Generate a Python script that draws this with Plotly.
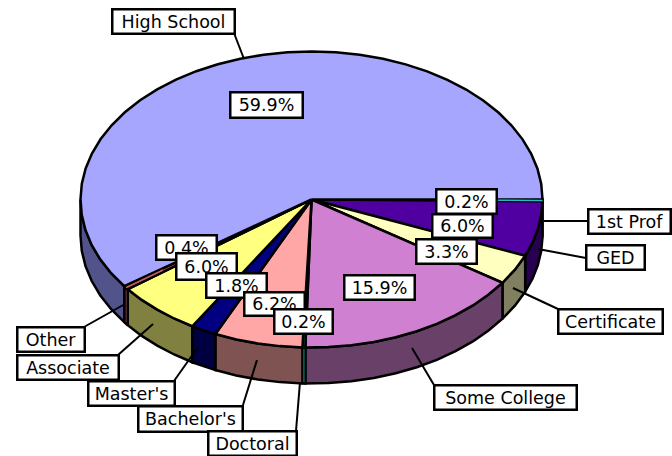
import numpy as np
import plotly.graph_objects as go

categories = ["1st Prof", "GED", "Certificate", "Some College", "Doctoral",
              "Bachelor's", "Master's", "Associate", "Other", "High School"]
values = [0.2, 6.0, 3.3, 15.9, 0.2, 6.2, 1.8, 6.0, 0.4, 59.9]

top_colors = ["#20C0C0", "#5000A0", "#FFFFC0", "#D080D0", "#008080",
              "#FFA6A6", "#000080", "#FFFF80", "#C06060", "#A6A6FF"]
side_colors = ["#106060", "#280050", "#808060", "#684068", "#006868",
               "#805353", "#000040", "#808040", "#A05050", "#53538C"]

CX, CY, RX, RY, DEPTH = 311.5, 199.5, 231, 148, 36
STEP = 6.0
LINE_W = 2.5
FONT = dict(family="DejaVu Sans", size=17.5, color="black")

# name -> box (x0, y0, x1, y1)
name_boxes = {
    "High School": (112, 9, 234, 33), "1st Prof": (588, 209, 670, 233),
    "GED": (586, 245, 644, 269), "Certificate": (558, 309, 662, 333),
    "Some College": (434, 385, 576, 409), "Doctoral": (208, 431, 296, 455),
    "Bachelor's": (138, 406, 242, 431), "Master's": (88, 381, 174, 405),
    "Associate": (17, 355, 118, 379), "Other": (17, 327, 84, 351),
}
pct_boxes = {
    "High School": (230, 92, 302, 117), "1st Prof": (436, 189, 496, 213),
    "GED": (432, 214, 492, 237), "Certificate": (416, 239, 476, 263),
    "Some College": (344, 275, 414, 299), "Other": (156, 235, 216, 259),
    "Associate": (176, 253, 236, 279), "Master's": (206, 273, 266, 297),
    "Bachelor's": (244, 292, 304, 315), "Doctoral": (274, 309, 332, 333),
}
leaders = {
    "High School": ((234, 33), (244, 59)), "1st Prof": ((588, 221), (544, 221)),
    "GED": ((586, 258), (538, 249)), "Certificate": ((558, 309), (513, 288)),
    "Some College": ((434, 385), (412, 348)), "Doctoral": ((296, 431), (300, 382)),
    "Bachelor's": ((243, 405), (257, 360)), "Master's": ((174, 381), (198, 347)),
    "Associate": ((118, 355), (153, 324)), "Other": ((84, 327), (125, 304)),
}


def arc(a, b):
    n = max(1, int(np.ceil(abs(b - a) / STEP)))
    t = np.radians(np.linspace(a, b, n + 1))
    return CX + RX * np.cos(t), CY + RY * np.sin(t)


def poly(x, y, color):
    return go.Scatter(x=list(x), y=list(y), mode="lines", fill="toself", fillcolor=color,
                      line=dict(color="black", width=LINE_W), hoverinfo="skip", showlegend=False)


def stroke(x, y, color, w):
    return go.Scatter(x=list(x), y=list(y), mode="lines", line=dict(color=color, width=w),
                      hoverinfo="skip", showlegend=False)


total = sum(values)
ends = np.cumsum(values) / total * 360
starts = np.concatenate([[0], ends[:-1]])
fig = go.Figure()

# visible rim (front half of the disc)
for a, b, c in zip(starts, ends, side_colors):
    lo, hi = a, min(b, 180)
    if lo < hi:
        x, y = arc(lo, hi)
        fig.add_trace(poly(np.r_[x, x[::-1], x[0]], np.r_[y, y[::-1] + DEPTH, y[0]], c))

# top faces
for a, b, c in zip(starts, ends, top_colors):
    x, y = arc(a, b)
    fig.add_trace(poly(np.r_[CX, x, CX], np.r_[CY, y, CY], c))

# thin slices: keep their colour visible inside the black outline
for name, frac in (("1st Prof", 0.55), ("Other", 0.8)):
    i = categories.index(name)
    t = np.radians((starts[i] + ends[i]) / 2)
    fig.add_trace(stroke([CX + frac * RX * np.cos(t), CX + RX * np.cos(t)],
                         [CY + frac * RY * np.sin(t), CY + RY * np.sin(t)], top_colors[i], 1.5))
i = categories.index("Doctoral")
t = np.radians((starts[i] + ends[i]) / 2)
xm, ym = CX + RX * np.cos(t), CY + RY * np.sin(t)
fig.add_trace(stroke([xm, xm], [ym + 1.5, ym + DEPTH - 1.5], side_colors[i], 1.5))

# leader lines
for name, (p, q) in leaders.items():
    fig.add_trace(stroke([p[0], q[0]], [p[1], q[1]], "black", LINE_W - 0.5))


def label(box, text):
    x0, y0, x1, y1 = box
    fig.add_annotation(x=(x0 + x1) / 2, y=(y0 + y1) / 2, text=text, showarrow=False,
                       width=x1 - x0 - 2, height=y1 - y0 - 2, borderpad=0, borderwidth=LINE_W,
                       bordercolor="black", bgcolor="white", font=FONT,
                       xanchor="center", yanchor="middle", align="center", valign="middle")


order = ["High School", "Some College", "Other", "Associate", "Master's", "Bachelor's",
         "Doctoral", "1st Prof", "GED", "Certificate"]
for name in order:
    label(pct_boxes[name], f"{values[categories.index(name)]:.1f}%")
for name in order:
    label(name_boxes[name], name)

fig.update_layout(
    width=672, height=456, margin=dict(l=0, r=0, t=0, b=0),
    paper_bgcolor="white", plot_bgcolor="white", showlegend=False,
    xaxis=dict(range=[0, 672], visible=False, fixedrange=True),
    yaxis=dict(range=[456, 0], visible=False, fixedrange=True),
)
fig.write_html("out.html", config={"displayModeBar": False},
               post_script="document.body.style.margin='0';")
